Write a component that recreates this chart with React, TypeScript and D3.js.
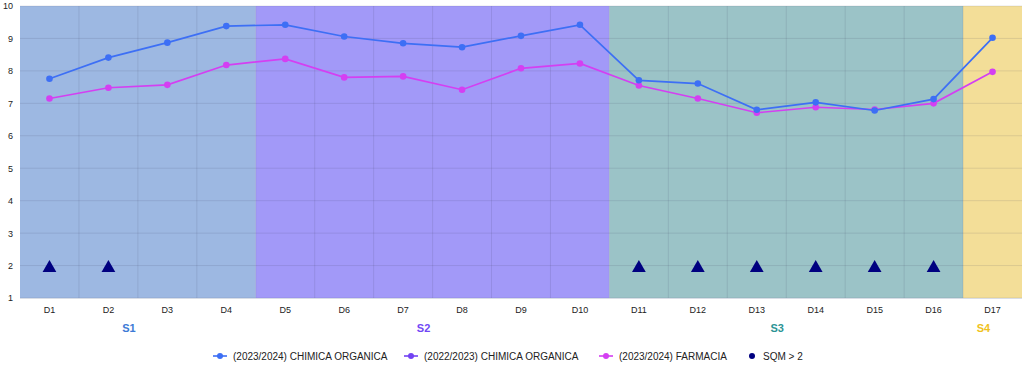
import { useEffect, useRef } from 'react';
import * as d3 from 'd3';

const categories = ['D1', 'D2', 'D3', 'D4', 'D5', 'D6', 'D7', 'D8', 'D9', 'D10', 'D11', 'D12', 'D13', 'D14', 'D15', 'D16', 'D17'];
const chimica2324 = [7.76, 8.41, 8.87, 9.38, 9.42, 9.06, 8.85, 8.73, 9.08, 9.42, 7.71, 7.61, 6.8, 7.03, 6.78, 7.13, 9.02];
const farmacia2324 = [7.15, 7.48, 7.57, 8.18, 8.37, 7.8, 7.83, 7.42, 8.08, 8.23, 7.55, 7.15, 6.71, 6.88, 6.81, 7.0, 7.97];
const sqmFlags = [2, 2, null, null, null, null, null, null, null, null, 2, 2, 2, 2, 2, 2, null];
const yTicks = [1, 2, 3, 4, 5, 6, 7, 8, 9, 10];

const sections = [
  { name: 'S1', from: 'D1', to: 'D4', bg: '#9db8e2', color: '#3d7ad6' },
  { name: 'S2', from: 'D5', to: 'D10', bg: '#a299f8', color: '#7147f5' },
  { name: 'S3', from: 'D11', to: 'D16', bg: '#9bc3c7', color: '#2b9494' },
  { name: 'S4', from: 'D17', to: 'D17', bg: '#f3de98', color: '#f0c21c' },
];

const legendItems = [
  { label: '(2023/2024) CHIMICA ORGANICA', color: '#3d6ff5', x: 213, line: true },
  { label: '(2022/2023) CHIMICA ORGANICA', color: '#7243f3', x: 404, line: true },
  { label: '(2023/2024) FARMACIA', color: '#d43ff2', x: 599, line: true },
  { label: 'SQM > 2', color: '#000080', x: 752, line: false },
];

const W = 1022;
const H = 365;
const margin = { top: 6, right: 0, bottom: 67, left: 20 };

const App = () => {
  const svgRef = useRef<SVGSVGElement>(null);

  useEffect(() => {
    if (!svgRef.current) return;
    const svg = d3.select(svgRef.current);
    svg.selectAll('*').remove();

    const innerW = W - margin.left - margin.right;
    const innerH = H - margin.top - margin.bottom;

    const x = d3.scaleBand().domain(categories).range([0, innerW]);
    const y = d3.scaleLinear().domain([1, 10]).range([innerH, 0]);
    const cx = (c: string) => (x(c) || 0) + x.bandwidth() / 2;

    const g = svg.append('g').attr('transform', `translate(${margin.left},${margin.top})`);

    // section backgrounds
    sections.forEach(s => {
      const x0 = x(s.from) || 0;
      const x1 = (x(s.to) || 0) + x.bandwidth();
      g.append('rect')
        .attr('x', x0)
        .attr('y', 0)
        .attr('width', x1 - x0)
        .attr('height', innerH)
        .attr('fill', s.bg);
      svg.append('text')
        .attr('x', margin.left + (x0 + x1) / 2 - 9)
        .attr('y', 332)
        .attr('text-anchor', 'middle')
        .attr('font-family', 'Arial, Liberation Sans, sans-serif')
        .attr('font-size', 11)
        .attr('font-weight', 'bold')
        .attr('fill', s.color)
        .text(s.name);
    });

    // grid
    g.selectAll('line.hgrid')
      .data(yTicks)
      .enter()
      .append('line')
      .attr('x1', 0)
      .attr('x2', innerW)
      .attr('y1', d => y(d))
      .attr('y2', d => y(d))
      .attr('stroke', 'rgba(60,60,90,0.13)')
      .attr('stroke-width', 1);

    g.selectAll('line.vgrid')
      .data(categories.slice(1))
      .enter()
      .append('line')
      .attr('x1', d => x(d) || 0)
      .attr('x2', d => x(d) || 0)
      .attr('y1', 0)
      .attr('y2', innerH)
      .attr('stroke', 'rgba(60,60,90,0.13)')
      .attr('stroke-width', 1);

    // bottom axis line
    g.append('line')
      .attr('x1', 0)
      .attr('x2', innerW)
      .attr('y1', innerH + 0.5)
      .attr('y2', innerH + 0.5)
      .attr('stroke', '#d8dde6');

    // axes labels
    g.append('g')
      .attr('transform', `translate(0,${innerH})`)
      .call(d3.axisBottom(x).tickSize(0).tickPadding(9))
      .call(a => a.select('.domain').remove())
      .selectAll('text')
      .attr('font-family', 'Arial, Liberation Sans, sans-serif')
      .attr('font-size', 9)
      .attr('fill', '#222');

    g.append('g')
      .call(d3.axisLeft(y).tickValues(yTicks).tickSize(0).tickPadding(7))
      .call(a => a.select('.domain').remove())
      .selectAll('text')
      .attr('font-family', 'Arial, Liberation Sans, sans-serif')
      .attr('font-size', 9)
      .attr('fill', '#222');

    // lines
    const drawSeries = (vals: number[], color: string) => {
      const line = d3.line<number>()
        .x((_, i) => cx(categories[i]))
        .y(d => y(d));
      g.append('path')
        .datum(vals)
        .attr('d', line)
        .attr('fill', 'none')
        .attr('stroke', color)
        .attr('stroke-width', 1.7);
      g.selectAll(null)
        .data(vals)
        .enter()
        .append('circle')
        .attr('cx', (_, i) => cx(categories[i]))
        .attr('cy', d => y(d))
        .attr('r', 3.3)
        .attr('fill', color);
    };
    drawSeries(farmacia2324, '#d43ff2');
    drawSeries(chimica2324, '#3d6ff5');

    // SQM triangles
    const tri = d3.symbol().type(d3.symbolTriangle).size(82);
    categories.forEach((c, i) => {
      const v = sqmFlags[i];
      if (v == null) return;
      g.append('path')
        .attr('d', tri())
        .attr('transform', `translate(${cx(c)},${y(v) + 2.5})`)
        .attr('fill', '#000080');
    });

    // legend
    const lg = svg.append('g').attr('transform', 'translate(0,356)');
    legendItems.forEach(it => {
      if (it.line) {
        lg.append('line')
          .attr('x1', it.x)
          .attr('x2', it.x + 14)
          .attr('y1', 0)
          .attr('y2', 0)
          .attr('stroke', it.color)
          .attr('stroke-width', 1.6);
        lg.append('circle').attr('cx', it.x + 7).attr('cy', 0).attr('r', 3).attr('fill', it.color);
        lg.append('text')
          .attr('x', it.x + 20)
          .attr('y', 3.5)
          .attr('font-family', 'Arial, Liberation Sans, sans-serif')
          .attr('font-size', 10)
          .attr('fill', '#222')
          .text(it.label);
      } else {
        lg.append('circle').attr('cx', it.x).attr('cy', 0).attr('r', 3).attr('fill', it.color);
        lg.append('text')
          .attr('x', it.x + 11)
          .attr('y', 3.5)
          .attr('font-family', 'Arial, Liberation Sans, sans-serif')
          .attr('font-size', 10)
          .attr('fill', '#222')
          .text(it.label);
      }
    });
  }, []);

  return (
    <svg
      ref={svgRef}
      width={W}
      height={H}
      style={{ position: 'absolute', left: 0, top: 0, background: '#fff' }}
    />
  );
};

export default App;
